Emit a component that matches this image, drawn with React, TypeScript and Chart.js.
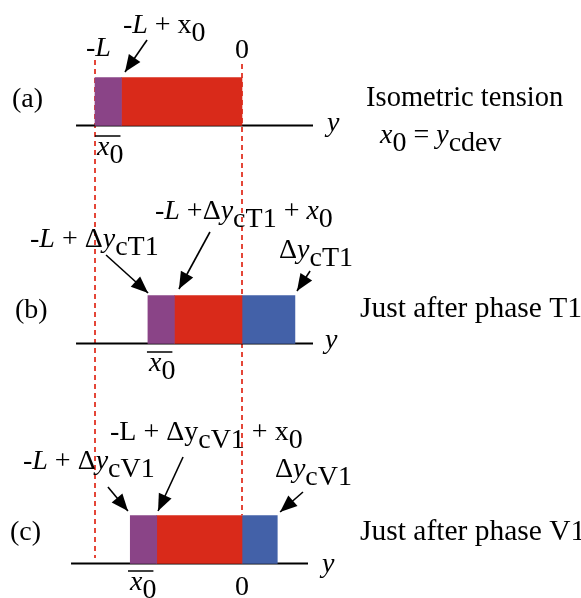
import React, { useEffect, useRef } from "react";
import { Chart, registerables } from "chart.js";

Chart.register(...registerables);

// ---- values (x in length units, L = 10; y in depth units from the top) ----
const L = 10;
const x0 = 1.8;
const dyT1 = 3.6;
const dyV1 = 2.4;
const rowNames = ["(a)", "(b)", "(c)"];
const rowBase = [125.5, 343.5, 563.5];
const barHeight = 48;
const purpleStart = [-L, -L + dyT1, -L + dyV1];
const purpleEnd = [-L + x0, -L + dyT1 + x0, -L + dyV1 + x0];
const redEnd = [0, 0, 0];
const blueEnd = [null, dyT1, dyV1];
const axisStart = [-11.29, -11.29, -11.63];
const axisEnd = [4.83, 4.83, 4.49];
const guideX = [-L, 0];
const guideTop = [60, 64];
const guideBottom = [558, 515];
// arrows: [fromX, fromY, toX, toY]
const arrows = [
  [-6.46, 40, -7.96, 72],
  [-9.25, 255, -6.39, 293],
  [-2.18, 232, -4.29, 289],
  [4.63, 271, 3.74, 291],
  [-9.12, 487, -7.76, 511],
  [-4.01, 457, -5.71, 511],
  [4.15, 492, 2.59, 512],
];

// text labels: segments [text, style]  r=roman i=italic sr/si = subscript
type Seg = [string, string];
interface Lab { x: number; y: number; segs: Seg[]; align?: string; over?: boolean; size?: number }
const textLabels: Lab[] = [
  { x: -10.61, y: 56, segs: [["-", "r"], ["L", "i"]] },
  { x: -8.1, y: 33, segs: [["-", "r"], ["L", "i"], [" + x", "r"], ["0", "sr"]] },
  { x: 0, y: 58, segs: [["0", "r"]], align: "center" },
  { x: -15.65, y: 107, segs: [[rowNames[0], "r"]] },
  { x: -9.86, y: 155, segs: [["x", "i"], ["0", "sr"]], over: true },
  { x: 8.44, y: 106, segs: [["Isometric tension", "r"]], size: 28.5 },
  { x: 9.39, y: 143, segs: [["x", "i"], ["0", "sr"], [" = ", "r"], ["y", "i"], ["cdev", "sr"]] },
  { x: 5.78, y: 131, segs: [["y", "i"]] },

  { x: -15.44, y: 318, segs: [[rowNames[1], "r"]] },
  { x: -14.42, y: 247, segs: [["-", "r"], ["L", "i"], [" + Δ", "r"], ["y", "i"], ["cT1", "sr"]] },
  { x: -5.92, y: 219, segs: [["-", "r"], ["L", "i"], [" +Δ", "r"], ["y", "i"], ["cT1", "sr"], [" + ", "r"], ["x", "i"], ["0", "sr"]] },
  { x: 2.52, y: 258, segs: [["Δ", "r"], ["y", "i"], ["cT1", "sr"]] },
  { x: 8.03, y: 317, segs: [["Just after phase T1", "r"]], size: 29.5 },
  { x: -6.33, y: 371, segs: [["x", "i"], ["0", "sr"]], over: true },
  { x: 5.65, y: 348, segs: [["y", "i"]] },

  { x: -15.78, y: 540, segs: [[rowNames[2], "r"]] },
  { x: -14.9, y: 469, segs: [["-", "r"], ["L", "i"], [" + Δ", "r"], ["y", "i"], ["cV1", "sr"]] },
  { x: -8.98, y: 440, segs: [["-L + Δy", "r"], ["cV1", "sr"], [" + x", "r"], ["0", "sr"]] },
  { x: 2.24, y: 477, segs: [["Δ", "r"], ["y", "i"], ["cV1", "sr"]] },
  { x: 8.03, y: 540, segs: [["Just after phase V1", "r"]], size: 29.5 },
  { x: -7.62, y: 590, segs: [["x", "i"], ["0", "sr"]], over: true },
  { x: 0, y: 595, segs: [["0", "r"]], align: "center" },
  { x: 5.44, y: 572, segs: [["y", "i"]] },
];

const PURPLE = "rgb(138,68,135)";
const RED = "rgb(217,42,26)";
const BLUE = "rgb(67,97,168)";
const GUIDE = "rgb(228,70,56)";
const FONT = '"Liberation Serif", "Times New Roman", serif';
const FS = 28;

const diagramPlugin = {
  id: "diagramText",
  afterDatasetsDraw(chart: any) {
    const ctx = chart.ctx;
    chart.data.datasets.forEach((ds: any, i: number) => {
      if (!ds.arrow) return;
      const pts = chart.getDatasetMeta(i).data;
      const a = pts[0], b = pts[1];
      const ang = Math.atan2(b.y - a.y, b.x - a.x);
      const len = 17, hw = 7;
      ctx.save();
      ctx.fillStyle = "#000";
      ctx.beginPath();
      ctx.moveTo(b.x, b.y);
      ctx.lineTo(b.x - len * Math.cos(ang) + hw * Math.sin(ang), b.y - len * Math.sin(ang) - hw * Math.cos(ang));
      ctx.lineTo(b.x - len * Math.cos(ang) - hw * Math.sin(ang), b.y - len * Math.sin(ang) + hw * Math.cos(ang));
      ctx.closePath();
      ctx.fill();
      ctx.restore();
    });
  },
  afterDraw(chart: any) {
    const ctx = chart.ctx;
    const sx = chart.scales.x, sy = chart.scales.y;
    ctx.save();
    ctx.fillStyle = "#000";
    ctx.textBaseline = "alphabetic";
    ctx.textAlign = "left";
    for (const lab of textLabels) {
      const size = lab.size || FS;
      const fontOf = (st: string) => (st.includes("i") ? "italic " : "") + size + "px " + FONT;
      let total = 0;
      for (const [t, st] of lab.segs) {
        ctx.font = fontOf(st);
        total += ctx.measureText(t).width;
      }
      let px = sx.getPixelForValue(lab.x);
      const py = sy.getPixelForValue(lab.y);
      if (lab.align === "center") px -= total / 2;
      const startX = px;
      for (const [t, st] of lab.segs) {
        ctx.font = fontOf(st);
        ctx.fillText(t, px, py + (st.startsWith("s") ? 8 : 0));
        px += ctx.measureText(t).width;
      }
      if (lab.over) {
        ctx.strokeStyle = "#000";
        ctx.lineWidth = 1.5;
        ctx.beginPath();
        ctx.moveTo(startX - 2, py - 19);
        ctx.lineTo(startX + total - 3, py - 19);
        ctx.stroke();
      }
    }
    ctx.restore();
  },
};

export default function App() {
  const ref = useRef<HTMLCanvasElement | null>(null);
  useEffect(() => {
    if (!ref.current) return;
    const rows = [0, 1, 2];
    const barSet = (label: string, color: string, starts: (number | null)[], ends: (number | null)[]) => ({
      type: "bar" as const,
      label,
      indexAxis: "y" as const,
      grouped: false,
      barThickness: barHeight,
      backgroundColor: color,
      borderWidth: 0,
      order: 0,
      data: rows
        .filter((r) => starts[r] !== null && ends[r] !== null)
        .map((r) => ({ y: rowBase[r] - barHeight / 2, x: [starts[r], ends[r]] })),
    });
    const lineSet = (pts: { x: number; y: number }[], color: string, width: number, dash: number[] = [], extra: any = {}) => ({
      type: "line" as const,
      indexAxis: "x" as const,
      data: pts,
      borderColor: color,
      borderWidth: width,
      borderDash: dash,
      pointRadius: 0,
      fill: false,
      tension: 0,
      order: 1,
      ...extra,
    });
    const datasets: any[] = [
      barSet("x0", PURPLE, purpleStart, purpleEnd),
      barSet("body", RED, purpleEnd, redEnd),
      barSet("shift", BLUE, redEnd, blueEnd),
    ];
    guideX.forEach((gx, i) =>
      datasets.push(lineSet([{ x: gx, y: guideTop[i] }, { x: gx, y: guideBottom[i] }], GUIDE, 2, [5, 4], { order: 2 }))
    );
    rows.forEach((r) =>
      datasets.push(lineSet([{ x: axisStart[r], y: rowBase[r] }, { x: axisEnd[r], y: rowBase[r] }], "#000", 2, [], { order: 1 }))
    );
    arrows.forEach((a) =>
      datasets.push(lineSet([{ x: a[0], y: a[1] }, { x: a[2], y: a[3] }], "#000", 1.6, [], { arrow: true, order: 1 }))
    );

    const chart = new Chart(ref.current, {
      type: "bar",
      data: { datasets },
      options: {
        responsive: false,
        animation: false,
        devicePixelRatio: 1,
        layout: { padding: 0 },
        plugins: { legend: { display: false }, tooltip: { enabled: false } },
        scales: {
          x: { type: "linear", min: -242 / 14.7, max: 339 / 14.7, display: false, offset: false, grace: 0 },
          y: { type: "linear", min: 0, max: 598, reverse: true, display: false, offset: false, grace: 0 },
        },
      },
      plugins: [diagramPlugin],
    } as any);
    return () => chart.destroy();
  }, []);
  return (
    <div style={{ position: "fixed", left: 0, top: 0, width: 581, height: 598, background: "#fff" }}>
      <canvas ref={ref} width={581} height={598} />
    </div>
  );
}
